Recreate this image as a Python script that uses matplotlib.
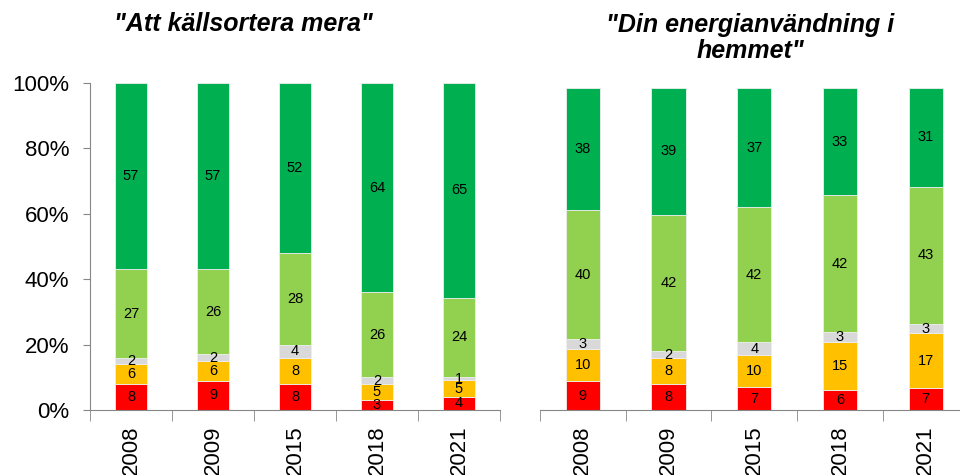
import matplotlib

matplotlib.use("Agg")
import matplotlib.pyplot as plt
import numpy as np

plt.rcParams["font.family"] = ["Liberation Sans", "DejaVu Sans"]

years = ["2008", "2009", "2015", "2018", "2021"]
colors = ["#FF0000", "#FFC000", "#D9D9D9", "#92D050", "#00B050"]

# segments bottom to top: red, orange, grey, light green, green
sort_red = [8, 9, 8, 3, 4]
sort_orange = [6, 6, 8, 5, 5]
sort_grey = [2, 2, 4, 2, 1]
sort_lgreen = [27, 26, 28, 26, 24]
sort_green = [57, 57, 52, 64, 65]

energy_red = [9, 8, 7, 6, 7]
energy_orange = [10, 8, 10, 15, 17]
energy_grey = [3, 2, 4, 3, 3]
energy_lgreen = [40, 42, 42, 42, 43]
energy_green = [38, 39, 37, 33, 31]

GRID = "#868686"


def stacked(ax, series, show_y):
    data = np.array(series, dtype=float)
    shares = data / data.sum(axis=0) * 100
    x = np.arange(len(years))
    bottom = np.zeros(len(years))
    for vals, share, col in zip(data, shares, colors):
        ax.bar(x, share, 0.4, bottom=bottom, color=col, edgecolor="#EEEEEE", linewidth=0.6)
        for xi, v, b, s in zip(x, vals, bottom, share):
            ax.text(xi, b + s / 2, f"{int(v)}", ha="center", va="center", fontsize=10.5)
        bottom += share
    ax.set_xlim(-0.5, len(years) - 0.5)
    ax.set_ylim(0, 100)
    ax.set_xticks(x)
    ax.set_xticklabels(years, rotation=90, fontsize=16)
    ax.set_xticks(np.arange(len(years) + 1) - 0.5, minor=True)
    ax.tick_params(axis="x", which="major", length=0, pad=11)
    ax.tick_params(axis="x", which="minor", length=8, color=GRID, direction="out")
    for s in ("top", "right"):
        ax.spines[s].set_visible(False)
    ax.spines["bottom"].set_color(GRID)
    if show_y:
        ax.spines["left"].set_color(GRID)
        ax.set_yticks([0, 20, 40, 60, 80, 100])
        ax.set_yticklabels(["0%", "20%", "40%", "60%", "80%", "100%"], fontsize=16)
        ax.tick_params(axis="y", length=5, color=GRID, pad=10)
    else:
        ax.spines["left"].set_visible(False)
        ax.set_yticks([])


fig = plt.figure(figsize=(9.6, 4.75), dpi=100)
ax1 = fig.add_axes([90 / 960, 65 / 475, 410 / 960, 327 / 475])
ax2 = fig.add_axes([540 / 960, 65 / 475, 428.5 / 960, 322 / 475])

stacked(ax1, [sort_red, sort_orange, sort_grey, sort_lgreen, sort_green], True)
stacked(ax2, [energy_red, energy_orange, energy_grey, energy_lgreen, energy_green], False)

fig.text(243 / 960, 1 - 24 / 475, '"Att källsortera mera"', ha="center", va="center",
         fontsize=18, fontweight="bold", fontstyle="italic")
fig.text(750 / 960, 1 - 38 / 475, '"Din energianvändning i\nhemmet"', ha="center", va="center",
         fontsize=18, fontweight="bold", fontstyle="italic", linespacing=1.1)

fig.savefig("out.png", dpi=100, facecolor="white")
